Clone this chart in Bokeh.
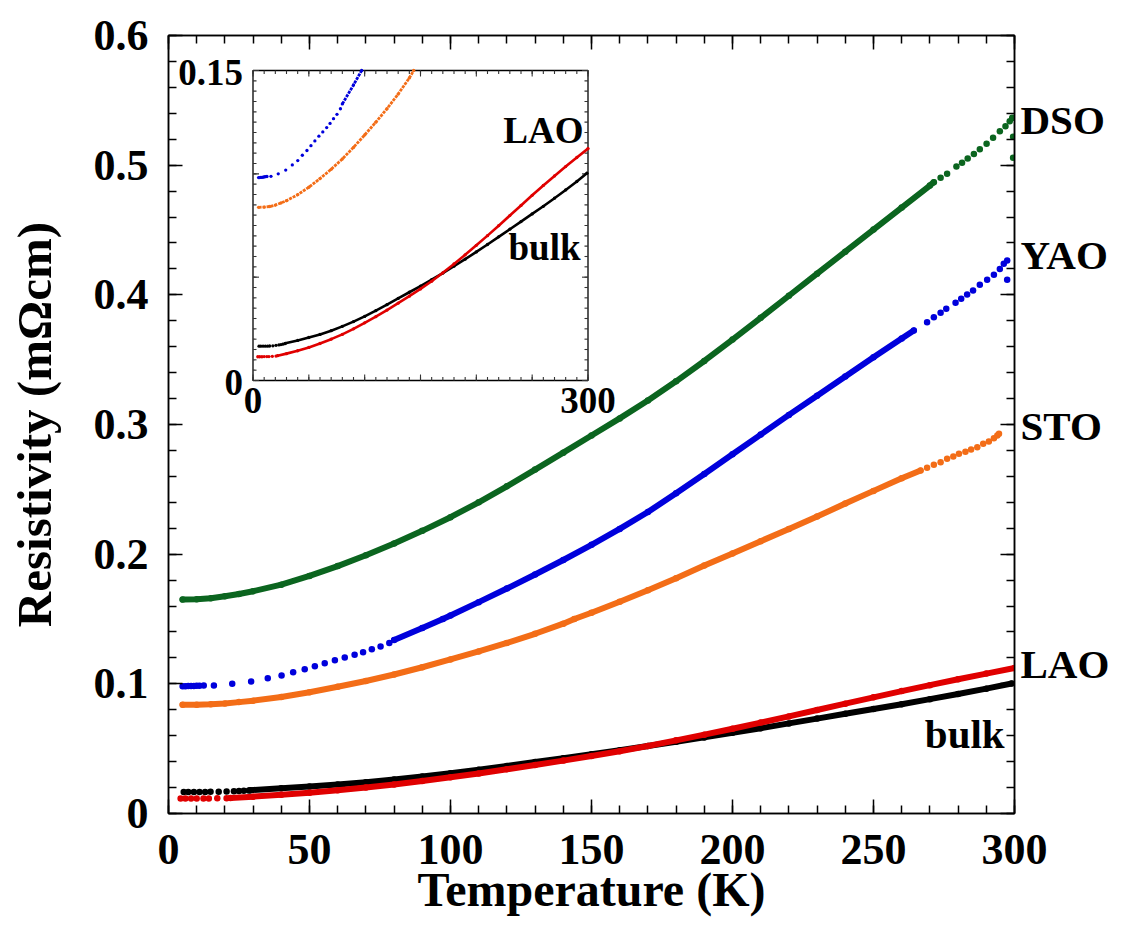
import numpy as np
from bokeh.plotting import figure
from bokeh.models import Range1d, LinearAxis, FixedTicker, Label
from bokeh.embed import file_html
from bokeh.resources import INLINE

# ---------------- data ----------------
# DSO (green)
dso_line_T = [5, 10, 15, 20, 25, 30, 40, 50, 60, 70, 80, 90, 100, 110, 120, 130, 140, 150, 160, 170, 180, 190, 200, 210, 220, 230, 240, 250, 260, 270, 271.4]
dso_line_R = [0.165, 0.1653, 0.166, 0.1675, 0.1693, 0.1714, 0.1765, 0.1832, 0.1908, 0.1992, 0.2083, 0.2180, 0.2285, 0.2400, 0.2523, 0.2652, 0.2783, 0.2915, 0.3047, 0.3185, 0.3333, 0.3490, 0.3655, 0.3823, 0.3993, 0.4163, 0.4333, 0.4503, 0.4673, 0.4843, 0.4869]
dso_dot_T = [273.8, 276.1, 279.4, 281.4, 283.4, 285.6, 287.7, 290.1, 292.4, 294.8, 296.8, 298.3, 299.2, 299.5, 299.5]
dso_dot_R = [0.4902, 0.4933, 0.499, 0.5018, 0.5051, 0.5087, 0.5123, 0.5165, 0.5211, 0.5262, 0.530, 0.5339, 0.5365, 0.522, 0.5057]

# YAO (blue)
yao_line_T = [80, 90, 97.3, 100, 110, 120, 130, 140, 150, 160, 170, 180, 190, 200, 210, 220, 230, 240, 250, 260, 264.3]
yao_line_R = [0.1338, 0.1430, 0.150, 0.1527, 0.1630, 0.1735, 0.1843, 0.1955, 0.2072, 0.2195, 0.2325, 0.2470, 0.2618, 0.2770, 0.2922, 0.3074, 0.3222, 0.3370, 0.3518, 0.3664, 0.3725]
yao_dot_T = [5, 6, 7, 8, 9, 10, 11, 12.5, 16.1, 22.6, 29.3, 35.2, 40.1, 44.2, 48.3, 51.9, 55.4, 59, 62.5, 66, 69, 72.1, 75.2, 78.3,
             269, 271.4, 273.8, 275.8, 279.1, 281.1, 283.2, 285.3, 287.7, 290.3, 292.7, 294.8, 296.2, 297.4, 297.4]
yao_dot_R = [0.0982, 0.0982, 0.0983, 0.0983, 0.0984, 0.0985, 0.0986, 0.0987, 0.0988, 0.100, 0.1018, 0.1043, 0.1064, 0.109, 0.1113, 0.1136, 0.1159, 0.1182, 0.1203, 0.1224, 0.1244, 0.1267, 0.1288, 0.1315,
             0.3789, 0.3828, 0.3861, 0.3892, 0.3938, 0.3969, 0.4003, 0.4033, 0.4077, 0.4116, 0.4154, 0.420, 0.4239, 0.4265, 0.4116]

# STO (orange)
sto_line_T = [5, 10, 15, 20, 25, 30, 40, 50, 60, 70, 80, 90, 100, 110, 120, 130, 140, 143.9, 150, 160, 170, 180, 190, 200, 210, 220, 230, 240, 250, 260, 266.7]
sto_line_R = [0.0838, 0.0839, 0.0842, 0.0849, 0.0859, 0.0870, 0.0899, 0.0935, 0.0977, 0.1022, 0.1072, 0.1128, 0.1188, 0.1250, 0.1315, 0.1386, 0.1464, 0.150, 0.1548, 0.1633, 0.1722, 0.1815, 0.1912, 0.2005, 0.2100, 0.2195, 0.2290, 0.2390, 0.2488, 0.2585, 0.2645]
sto_dot_T = [269, 271.4, 273.8, 276.1, 278.3, 280.3, 282.6, 284.6, 286.8, 288.9, 290.9, 292.7, 293.9, 294.5]
sto_dot_R = [0.2666, 0.2689, 0.2709, 0.2735, 0.2753, 0.2774, 0.2789, 0.2807, 0.2825, 0.2851, 0.2869, 0.2894, 0.2915, 0.2928]

# LAO (red)
lao_line_T = [22, 30, 40, 50, 60, 70, 80, 90, 100, 110, 120, 130, 140, 150, 160, 170, 180, 190, 200, 210, 220, 230, 240, 250, 260, 270, 280, 290, 300]
lao_line_R = [0.0120, 0.0130, 0.0144, 0.0160, 0.0179, 0.0200, 0.0223, 0.0250, 0.0279, 0.0309, 0.0341, 0.0374, 0.0408, 0.0443, 0.0480, 0.0521, 0.0564, 0.0608, 0.0654, 0.0701, 0.0749, 0.0798, 0.0847, 0.0896, 0.0944, 0.0990, 0.1035, 0.1079, 0.1122]
lao_dot_T = [4.3, 6, 8, 10, 12.4, 14.3, 17.3, 20.6]
lao_dot_R = [0.0115, 0.0115, 0.0115, 0.0116, 0.0116, 0.0116, 0.0117, 0.0118]

# bulk (black)
bulk_line_T = [29, 40, 50, 60, 70, 80, 90, 100, 110, 120, 130, 140, 150, 160, 170, 180, 190, 200, 210, 220, 230, 240, 250, 260, 270, 280, 290, 299]
bulk_line_R = [0.0180, 0.0194, 0.0208, 0.0223, 0.0241, 0.0262, 0.0285, 0.0310, 0.0338, 0.0367, 0.0397, 0.0427, 0.0457, 0.0488, 0.0520, 0.0553, 0.0587, 0.0622, 0.0658, 0.0695, 0.0732, 0.0769, 0.0806, 0.0843, 0.0882, 0.0922, 0.0963, 0.1003]
bulk_dot_T = [5.4, 7, 9, 11, 13, 14.9, 17.8, 20.6, 23.2, 25, 26.7, 28.5]
bulk_dot_R = [0.0166, 0.0166, 0.0166, 0.0166, 0.0166, 0.0167, 0.0168, 0.0170, 0.0172, 0.0174, 0.0176, 0.0178]

# axes / ticks
x_ticks = [0, 50, 100, 150, 200, 250, 300]
x_tick_labels = ["0", "50", "100", "150", "200", "250", "300"]
x_minor = list(range(0, 301, 10))
y_ticks = [0, 0.1, 0.2, 0.3, 0.4, 0.5, 0.6]
y_tick_labels = ["0", "0.1", "0.2", "0.3", "0.4", "0.5", "0.6"]
y_minor = [round(v * 0.02, 2) for v in range(0, 31)]

# series names written at the right edge (centre heights of the names)
side_names = ["DSO", "YAO", "STO", "LAO"]
side_name_y = [0.5352, 0.4311, 0.2985, 0.1153]

inset_x = (0, 300)
inset_y = (0, 0.15)
inset_x_major = [0, 50, 100, 150, 200, 250, 300]
inset_x_minor = list(range(0, 301, 10))
inset_y_major = [0, 0.05, 0.10, 0.15]
inset_y_minor = [round(v * 0.005, 3) for v in range(0, 31)]

colors = {"DSO": "#0b651f", "YAO": "#0000dc", "STO": "#f36d17", "LAO": "#e00000", "bulk": "#000000"}

FONT = "Liberation Serif"

# ---------------- layout constants (pixels) ----------------
FW, FH = 846, 778
MS = 1296.67                                     # main px per resistivity unit
IN_L, IN_R, IN_T, IN_B = 84.5, 419.5, 35, 345   # inset frame offsets from main frame left / top
ixs = (IN_R - IN_L) / (inset_x[1] - inset_x[0])   # px per K
iys = (IN_B - IN_T) / (inset_y[1] - inset_y[0])   # px per unit
ix_range = Range1d(inset_x[0] - IN_L / ixs, inset_x[1] + (FW - IN_R) / ixs)
iy_range = Range1d(inset_y[0] - (FH - IN_B) / iys, inset_y[1] + IN_T / iys)
LDY = 13   # px: baseline correction for labels

p = figure(frame_width=FW, frame_height=FH,
           x_range=Range1d(0, 300), y_range=Range1d(0, 0.6),
           output_backend="svg", toolbar_location=None,
           min_border_left=168, min_border_right=10, min_border_top=35, min_border_bottom=100)
p.extra_x_ranges = {"ix": ix_range}
p.extra_y_ranges = {"iy": iy_range}
p.xgrid.visible = False
p.ygrid.visible = False
p.outline_line_color = "black"
p.outline_line_width = 1.5
p.background_fill_color = "white"
p.border_fill_color = "white"

bottom_ax = p.below[0]
left_ax = p.left[0]
bottom_ax.ticker = FixedTicker(ticks=x_ticks, minor_ticks=x_minor)
left_ax.ticker = FixedTicker(ticks=y_ticks, minor_ticks=y_minor)
bottom_ax.major_label_overrides = dict(zip(x_ticks, x_tick_labels))
left_ax.major_label_overrides = dict(zip(y_ticks, y_tick_labels))
bottom_ax.axis_label = "Temperature (K)"
left_ax.axis_label = "Resistivity (mΩcm)"

top_ax = LinearAxis(ticker=FixedTicker(ticks=x_ticks, minor_ticks=x_minor),
                    major_label_overrides={t: "" for t in x_ticks}, major_label_standoff=0)
right_ax = LinearAxis(ticker=FixedTicker(ticks=y_ticks, minor_ticks=y_minor),
                      major_label_overrides={t: "" for t in y_ticks}, major_label_standoff=0)
p.add_layout(top_ax, "above")
p.add_layout(right_ax, "right")

for ax in [bottom_ax, left_ax, top_ax, right_ax]:
    ax.major_tick_in = 14
    ax.major_tick_out = 0
    ax.minor_tick_in = 8
    ax.minor_tick_out = 0
    ax.axis_line_width = 1.5
    ax.major_tick_line_width = 1.5
    ax.minor_tick_line_width = 1.5
    ax.axis_line_color = "black"
    ax.major_tick_line_color = "black"
    ax.minor_tick_line_color = "black"

for ax in [bottom_ax, left_ax]:
    ax.major_label_text_font = FONT
    ax.major_label_text_font_style = "bold"
    ax.major_label_text_font_size = "44px"
    ax.major_label_text_color = "black"
    ax.axis_label_text_font = FONT
    ax.axis_label_text_font_style = "bold"
    ax.axis_label_text_color = "black"
bottom_ax.axis_label_text_font_size = "48px"
left_ax.axis_label_text_font_size = "49px"
bottom_ax.major_label_standoff = 21
bottom_ax.axis_label_standoff = -4
left_ax.major_label_standoff = 20
left_ax.axis_label_standoff = 29

# names of the series, as a second right-hand axis without ticks
name_ax = LinearAxis(ticker=FixedTicker(ticks=side_name_y, minor_ticks=[]),
                     major_label_overrides=dict(zip(side_name_y, side_names)))
name_ax.axis_line_color = None
name_ax.major_tick_line_color = None
name_ax.minor_tick_line_color = None
name_ax.major_tick_in = 0
name_ax.major_tick_out = 0
name_ax.major_label_standoff = 6
name_ax.major_label_text_font = FONT
name_ax.major_label_text_font_style = "bold"
name_ax.major_label_text_font_size = "41px"
name_ax.major_label_text_color = "black"
p.add_layout(name_ax, "right")

series = [
    ("DSO", dso_line_T, dso_line_R, dso_dot_T, dso_dot_R),
    ("YAO", yao_line_T, yao_line_R, yao_dot_T, yao_dot_R),
    ("STO", sto_line_T, sto_line_R, sto_dot_T, sto_dot_R),
    ("bulk", bulk_line_T, bulk_line_R, bulk_dot_T, bulk_dot_R),
    ("LAO", lao_line_T, lao_line_R, lao_dot_T, lao_dot_R),
]

# ---------------- main curves ----------------
for name, lt, lr, dt, dr in series:
    c = colors[name]
    p.line(lt, lr, line_width=6, line_color=c, line_cap="round", line_join="round")
    p.scatter(lt + dt, lr + dr, size=6.5, fill_color=c, line_color=None)

# ---------------- inset ----------------
p.quad(left=[inset_x[0]], right=[inset_x[1]], bottom=[inset_y[0]], top=[inset_y[1]],
       fill_color="white", line_color="black", line_width=1.3,
       x_range_name="ix", y_range_name="iy")

maj_len, min_len = 6.0, 3.5
xm = np.array(inset_x_major, dtype=float)
xn = np.array(inset_x_minor, dtype=float)
ym = np.array(inset_y_major, dtype=float)
yn = np.array(inset_y_minor, dtype=float)
sx0, sx1, sy0, sy1 = [], [], [], []
for arr, L in [(xm, maj_len), (xn, min_len)]:
    dy = L / iys
    sx0 += list(arr); sx1 += list(arr); sy0 += [inset_y[0]] * len(arr); sy1 += [inset_y[0] + dy] * len(arr)
    sx0 += list(arr); sx1 += list(arr); sy0 += [inset_y[1]] * len(arr); sy1 += [inset_y[1] - dy] * len(arr)
for arr, L in [(ym, maj_len), (yn, min_len)]:
    dx = L / ixs
    sy0 += list(arr); sy1 += list(arr); sx0 += [inset_x[0]] * len(arr); sx1 += [inset_x[0] + dx] * len(arr)
    sy0 += list(arr); sy1 += list(arr); sx0 += [inset_x[1]] * len(arr); sx1 += [inset_x[1] - dx] * len(arr)
p.segment(sx0, sy0, sx1, sy1, line_color="#333333", line_width=1.1,
          x_range_name="ix", y_range_name="iy")

dotted_in_inset = {"YAO", "STO"}
for name, lt, lr, dt, dr in series:
    c = colors[name]
    lt_a, lr_a = np.array(lt), np.array(lr)
    dt_a, dr_a = np.array(dt), np.array(dr)
    m = lr_a <= inset_y[1] + 1e-9
    md = dr_a <= inset_y[1] + 1e-9
    if m.sum() > 1:
        if name in dotted_in_inset:
            p.line(lt_a[m], lr_a[m], line_width=2.8, line_color=c, line_dash="3 1",
                   x_range_name="ix", y_range_name="iy")
        else:
            p.line(lt_a[m], lr_a[m], line_width=2.6, line_color=c, line_cap="round", line_join="round",
                   x_range_name="ix", y_range_name="iy")
    allT = np.concatenate([lt_a[m], dt_a[md]])
    allR = np.concatenate([lr_a[m], dr_a[md]])
    if len(allT):
        p.scatter(allT, allR, size=3.3, fill_color=c, line_color=None,
                  x_range_name="ix", y_range_name="iy")

def lab(text, x, y, size, align="left", xr="default", yr="default"):
    p.add_layout(Label(x=x, y=y, text=text, text_font=FONT, text_font_style="bold",
                       text_font_size=size, text_align=align, text_baseline="alphabetic",
                       text_color="black", x_range_name=xr, y_range_name=yr))

# inset tick labels (baselines given in inset pixels below/above the inset frame)
lab("0.15", inset_x[0] - 10 / ixs, inset_y[1] + (-15 + LDY) / iys, "37px", align="right", xr="ix", yr="iy")
lab("0", inset_x[0] - 10 / ixs, inset_y[0] + (-15 + LDY) / iys, "37px", align="right", xr="ix", yr="iy")
lab("0", inset_x[0], inset_y[0] + (-33 + LDY) / iys, "37px", align="center", xr="ix", yr="iy")
lab("300", inset_x[1], inset_y[0] + (-33 + LDY) / iys, "37px", align="center", xr="ix", yr="iy")
# inset series labels
lab("LAO", 296.0, 0.1147 + LDY / iys, "37px", align="right", xr="ix", yr="iy")
lab("bulk", 293.3, 0.0581 + LDY / iys, "37px", align="right", xr="ix", yr="iy")

# main "bulk" label inside the frame
lab("bulk", 296.5, 0.0509 + LDY / MS, "41px", align="right")

open("out.html", "w").write(file_html(p, INLINE))
